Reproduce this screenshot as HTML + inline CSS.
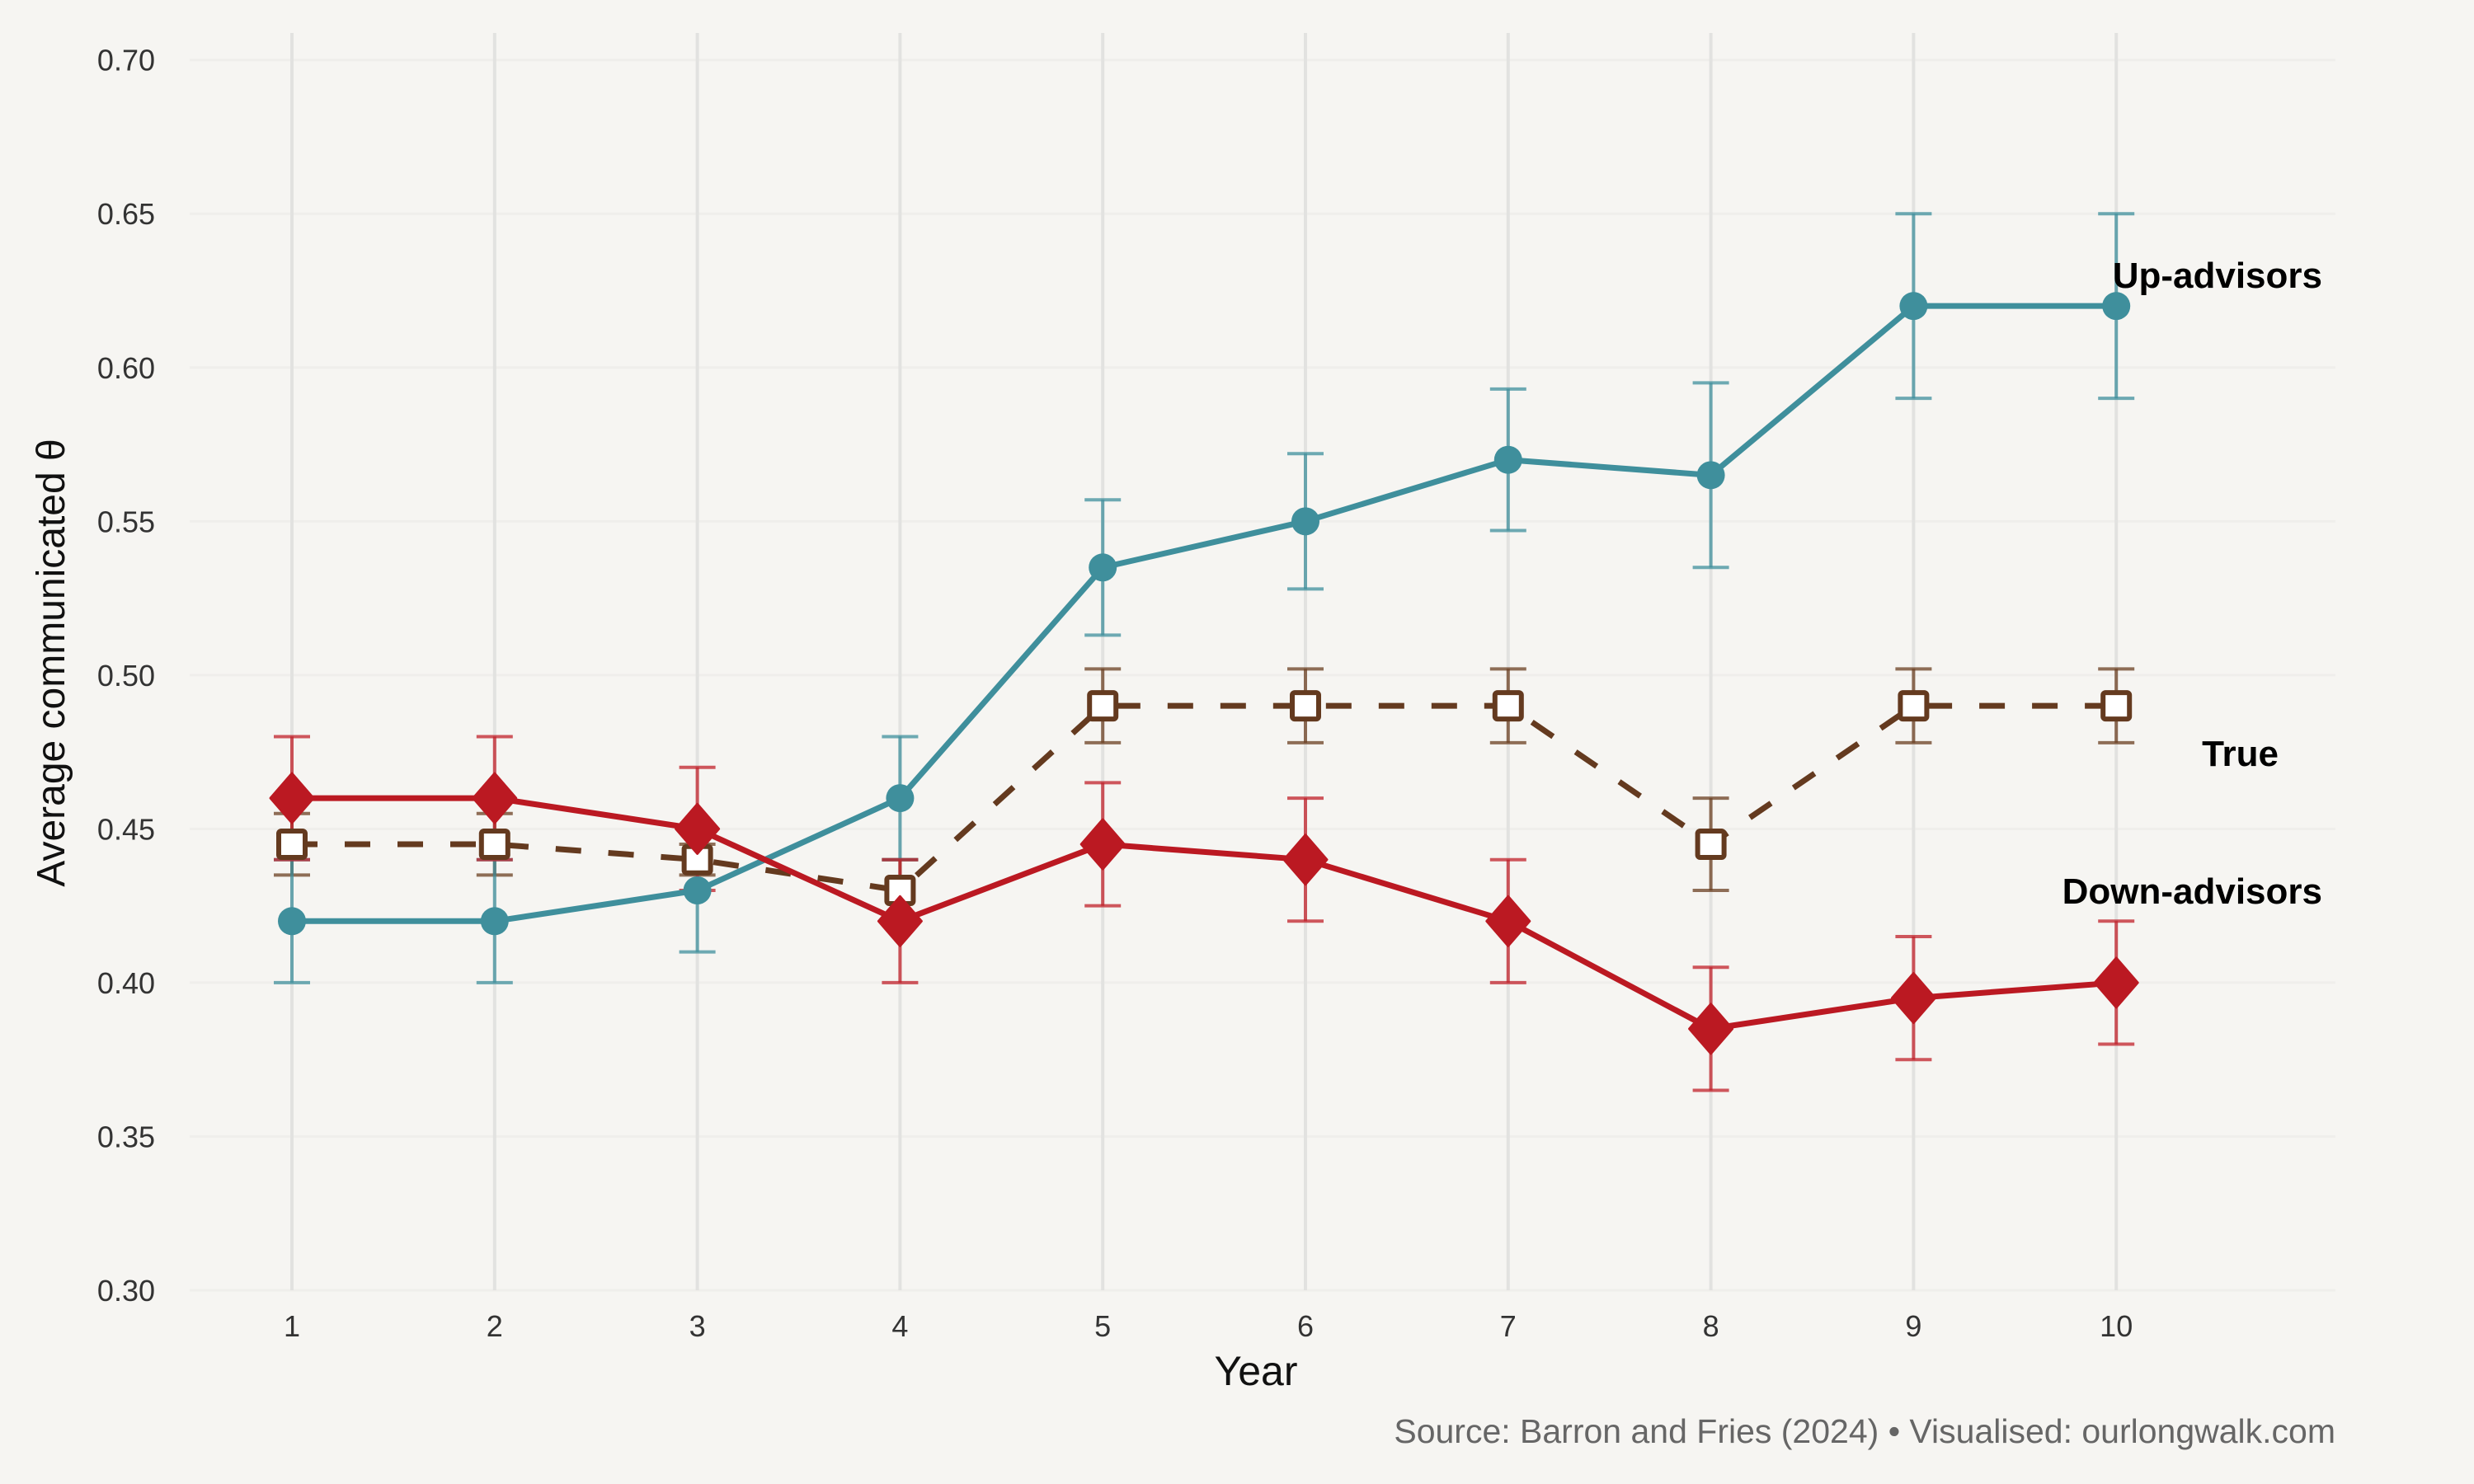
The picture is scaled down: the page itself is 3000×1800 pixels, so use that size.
<!DOCTYPE html>
<html><head><meta charset="utf-8"><style>
html,body{margin:0;padding:0;background:#f6f5f2;}
svg{display:block;font-family:"Liberation Sans",sans-serif;}
</style></head><body>
<svg id="chart" width="3000" height="1800" viewBox="0 0 3000 1800">
<rect width="3000" height="1800" fill="#f6f5f2"/>
<g id="grid"></g><g id="series"></g><g id="axes"></g>
<text x="2816" y="349" text-anchor="end" font-size="44" font-weight="bold" fill="#000">Up-advisors</text>
<text x="2763" y="929" text-anchor="end" font-size="44" font-weight="bold" fill="#000">True</text>
<text x="2816" y="1096" text-anchor="end" font-size="44" font-weight="bold" fill="#000">Down-advisors</text>
<text x="1523" y="1680" text-anchor="middle" font-size="50" fill="#111">Year</text>
<text transform="translate(78,804) rotate(-90)" text-anchor="middle" font-size="48" fill="#111">Average communicated θ</text>
<text x="2832" y="1750" text-anchor="end" font-size="41" fill="#666">Source: Barron and Fries (2024) • Visualised: ourlongwalk.com</text>
</svg>
<script>
const years=[1,2,3,4,5,6,7,8,9,10];
const yTicks=[0.30,0.35,0.40,0.45,0.50,0.55,0.60,0.65,0.70];
const upVals=[0.42,0.42,0.43,0.46,0.535,0.55,0.57,0.565,0.62,0.62];
const upErr=[0.02,0.02,0.02,0.02,0.022,0.022,0.023,0.03,0.03,0.03];
const downVals=[0.46,0.46,0.45,0.42,0.445,0.44,0.42,0.385,0.395,0.40];
const downErr=[0.02,0.02,0.02,0.02,0.02,0.02,0.02,0.02,0.02,0.02];
const trueVals=[0.445,0.445,0.44,0.43,0.49,0.49,0.49,0.445,0.49,0.49];
const trueErr=[0.01,0.01,0.005,0.01,0.012,0.012,0.012,0.015,0.012,0.012];

const NS="http://www.w3.org/2000/svg";
const X=v=>354+(v-1)*245.8;
const Y=v=>1565-(v-0.30)/0.40*1492.3;
function mk(tag,attrs,parent){const e=document.createElementNS(NS,tag);for(const k in attrs)e.setAttribute(k,attrs[k]);parent.appendChild(e);return e;}
const grid=document.getElementById('grid'),axes=document.getElementById('axes'),ser=document.getElementById('series');
yTicks.forEach(t=>{
 const l=mk('line',{x1:230,x2:2832,y1:Y(t),y2:Y(t),stroke:'#efeeeb','stroke-width':3},grid);
 
 
 const tx=mk('text',{x:188,y:Y(t)+13,'text-anchor':'end','font-size':36,fill:'#333'},axes);
 tx.textContent=t.toFixed(2);
 
 
});
years.forEach(yr=>{
 const l=mk('line',{x1:X(yr),x2:X(yr),y1:40,y2:1565,stroke:'#e2e2e0','stroke-width':4},grid);
 
 
 const tx=mk('text',{x:X(yr),y:1621,'text-anchor':'middle','font-size':36,fill:'#333'},axes);
 tx.textContent=yr;
 
 
});
function errbars(vals,errs,color,name){
 const g=mk('g',{stroke:color,'stroke-width':4,'stroke-opacity':0.75},ser);
 
 
 vals.forEach((v,i)=>{
  const x=X(years[i]),y1=Y(v+errs[i]),y2=Y(v-errs[i]);
  mk('line',{x1:x,x2:x,y1:y1,y2:y2},g);
  mk('line',{x1:x-22,x2:x+22,y1:y1,y2:y1},g);
  mk('line',{x1:x-22,x2:x+22,y1:y2,y2:y2},g);
 });
}
function line(vals,color,name,dash){
 const p=mk('polyline',{points:vals.map((v,i)=>X(years[i])+','+Y(v)).join(' '),fill:'none',stroke:color,'stroke-width':7,'stroke-linejoin':'round'},ser);
 if(dash)p.setAttribute('stroke-dasharray','31 33');
 
 
}
errbars(trueVals,trueErr,'#6b3f22','true');
errbars(upVals,upErr,'#3f8f9c','up');
errbars(downVals,downErr,'#c0202a','down');
line(trueVals,'#643a1f','true',true);
line(upVals,'#3f8f9c','up',false);
line(downVals,'#bb1922','down',false);
trueVals.forEach((v,i)=>{
 const r=mk('rect',{x:X(years[i])-16,y:Y(v)-16,width:32,height:32,rx:3,fill:'#fff',stroke:'#643a1f','stroke-width':6},ser);
 
 
});
upVals.forEach((v,i)=>{
 const c=mk('circle',{cx:X(years[i]),cy:Y(v),r:17,fill:'#3f8f9c'},ser);
 
 
});
downVals.forEach((v,i)=>{
 const x=X(years[i]),y=Y(v);
 const d=mk('polygon',{points:`${x},${y-30} ${x+26},${y} ${x},${y+30} ${x-26},${y}`,fill:'#bb1922','stroke-linejoin':'round',stroke:'#bb1922','stroke-width':3},ser);
 
 
});
</script>
</body></html>
